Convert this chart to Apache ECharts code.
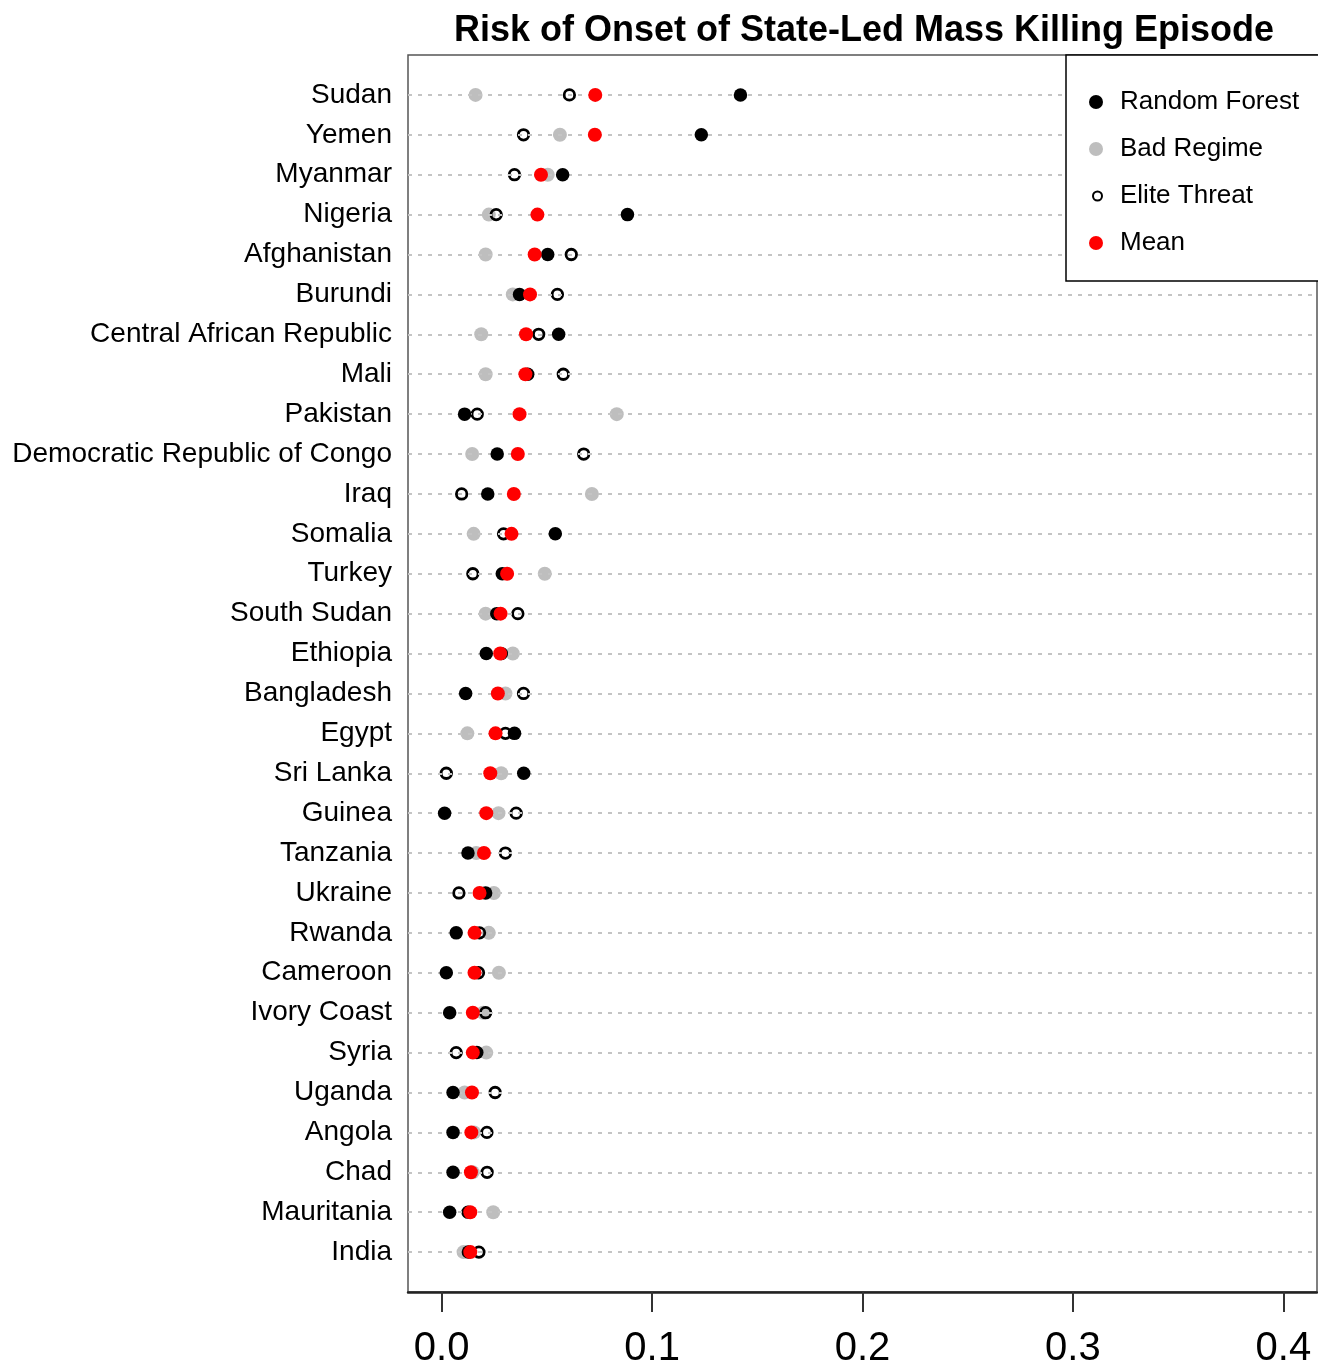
<!DOCTYPE html>
<html>
<head>
<meta charset="utf-8">
<script src="https://cdn.jsdelivr.net/npm/echarts@6/dist/echarts.min.js"></script>
<style>
html,body{margin:0;padding:0;background:#fff;}
#chart{width:1318px;height:1370px;}
</style>
</head>
<body>
<div id="chart"></div>
<script>
// Countries, top to bottom
const countries = ["Sudan","Yemen","Myanmar","Nigeria","Afghanistan","Burundi","Central African Republic","Mali","Pakistan","Democratic Republic of Congo","Iraq","Somalia","Turkey","South Sudan","Ethiopia","Bangladesh","Egypt","Sri Lanka","Guinea","Tanzania","Ukraine","Rwanda","Cameroon","Ivory Coast","Syria","Uganda","Angola","Chad","Mauritania","India"];

const randomForest = [0.142,0.1234,0.0575,0.0883,0.0504,0.037,0.0556,0.0409,0.0109,0.0264,0.0219,0.054,0.0288,0.0262,0.0212,0.0114,0.0346,0.039,0.0014,0.0125,0.0209,0.0069,0.0022,0.0038,0.0167,0.0054,0.0054,0.0054,0.0038,0.0127];
const badRegime = [0.0161,0.0562,0.0504,0.0224,0.0209,0.0338,0.0188,0.0209,0.0832,0.0145,0.0714,0.0152,0.049,0.0209,0.0338,0.0303,0.0122,0.0283,0.027,0.0164,0.0248,0.0224,0.0272,0.0197,0.0212,0.0109,0.0154,0.0147,0.0245,0.0104];
const eliteThreat = [0.0607,0.0389,0.0346,0.0259,0.0616,0.055,0.0461,0.0578,0.0169,0.0675,0.0095,0.0294,0.0148,0.0362,0.0284,0.0389,0.0303,0.0022,0.0354,0.0303,0.0082,0.018,0.0175,0.0209,0.0069,0.0254,0.0215,0.0216,0.0125,0.0177];
const meanRisk = [0.0730,0.0728,0.0472,0.0455,0.0442,0.042,0.0401,0.0398,0.037,0.0362,0.0343,0.0332,0.0311,0.028,0.0278,0.0267,0.0256,0.0231,0.0212,0.0201,0.018,0.0156,0.0156,0.0148,0.0148,0.0144,0.0141,0.0139,0.0136,0.0136];

const xTicks = [0, 0.1, 0.2, 0.3, 0.4];
const xTickLabels = ["0.0", "0.1", "0.2", "0.3", "0.4"];

const n = countries.length;
const rowPos = countries.map((c, i) => n - i);
const pts = arr => arr.map((v, i) => [v, rowPos[i]]);

const FONT = '"Liberation Sans", Arial, Helvetica, sans-serif';

const chart = echarts.init(document.getElementById('chart'), null, {renderer: 'canvas'});

const legendText = {fontSize: 26, fontFamily: FONT, color: '#000', lineHeight: 30};

chart.setOption({
  animation: false,
  backgroundColor: '#fff',
  title: {
    text: 'Risk of Onset of State-Led Mass Killing Episode',
    left: 859, top: 8, textAlign: 'center',
    textStyle: {fontSize: 36, fontWeight: 'bold', fontFamily: FONT, color: '#000'}
  },
  grid: {
    left: 408, right: 1, top: 55, bottom: 78,
    show: true, borderColor: '#555', borderWidth: 1.5, backgroundColor: 'transparent'
  },
  xAxis: {
    type: 'value', min: -0.016, max: 0.416,
    axisLine: {show: true, lineStyle: {color: '#222', width: 2.5}},
    axisTick: {show: true, length: 20, lineStyle: {color: '#333', width: 2}, customValues: xTicks},
    axisLabel: {
      show: true, customValues: xTicks, margin: 37,
      fontSize: 40, fontFamily: FONT, color: '#000',
      formatter: v => { const k = xTicks.findIndex(t => Math.abs(t - v) < 1e-9); return k >= 0 ? xTickLabels[k] : ''; }
    },
    splitLine: {show: false}
  },
  yAxis: {
    type: 'value', min: 0, max: n + 1, interval: 1,
    axisLine: {show: false}, axisTick: {show: false}, splitLine: {show: false},
    axisLabel: {
      fontSize: 28, fontFamily: FONT, color: '#000', margin: 16, padding: [5, 0, 0, 0],
      formatter: v => (v >= 1 && v <= n) ? countries[n - v] : ''
    }
  },
  legend: [
    {data: ['Random Forest', 'Bad Regime'], orient: 'vertical', left: 1089, top: 87, padding: 0,
     itemWidth: 14, itemHeight: 14, itemGap: 17, z: 10,
     textStyle: Object.assign({padding: [0, 0, 0, 12]}, legendText)},
    {data: [{name: 'Elite Threat', itemStyle: {borderWidth: 2}}], orient: 'vertical', left: 1092, top: 181, padding: 0,
     itemWidth: 9, itemHeight: 9, z: 10,
     textStyle: Object.assign({padding: [0, 0, 0, 13]}, legendText)},
    {data: ['Mean'], orient: 'vertical', left: 1089, top: 228, padding: 0,
     itemWidth: 14, itemHeight: 14, z: 10,
     textStyle: Object.assign({padding: [0, 0, 0, 12]}, legendText)}
  ],
  graphic: [{
    type: 'rect', z: 8, silent: true,
    shape: {x: 1066, y: 55, width: 270, height: 226},
    style: {fill: '#fff', stroke: '#000', lineWidth: 1.5}
  }],
  series: [
    {
      name: 'rows', type: 'scatter', data: pts(meanRisk), symbolSize: 0, z: 1, silent: true,
      itemStyle: {opacity: 0},
      markLine: {
        silent: true, symbol: 'none', animation: false,
        label: {show: false},
        lineStyle: {type: [4, 6], color: '#c4c4c4', width: 2},
        data: rowPos.map(p => ({yAxis: p}))
      }
    },
    {name: 'Bad Regime', type: 'scatter', data: pts(badRegime), symbol: 'circle', symbolSize: 14, z: 3,
     itemStyle: {color: '#bebebe', opacity: 1}},
    {name: 'Elite Threat', type: 'scatter', data: pts(eliteThreat), symbol: 'circle', symbolSize: 10.5, z: 4,
     itemStyle: {color: 'rgba(0,0,0,0)', borderColor: '#000', borderWidth: 2.8, opacity: 1}},
    {name: 'Random Forest', type: 'scatter', data: pts(randomForest), symbol: 'circle', symbolSize: 13.5, z: 5,
     itemStyle: {color: '#000', opacity: 1}},
    {name: 'Mean', type: 'scatter', data: pts(meanRisk), symbol: 'circle', symbolSize: 14, z: 6,
     itemStyle: {color: '#ff0000', opacity: 1}}
  ]
});
</script>
</body>
</html>
